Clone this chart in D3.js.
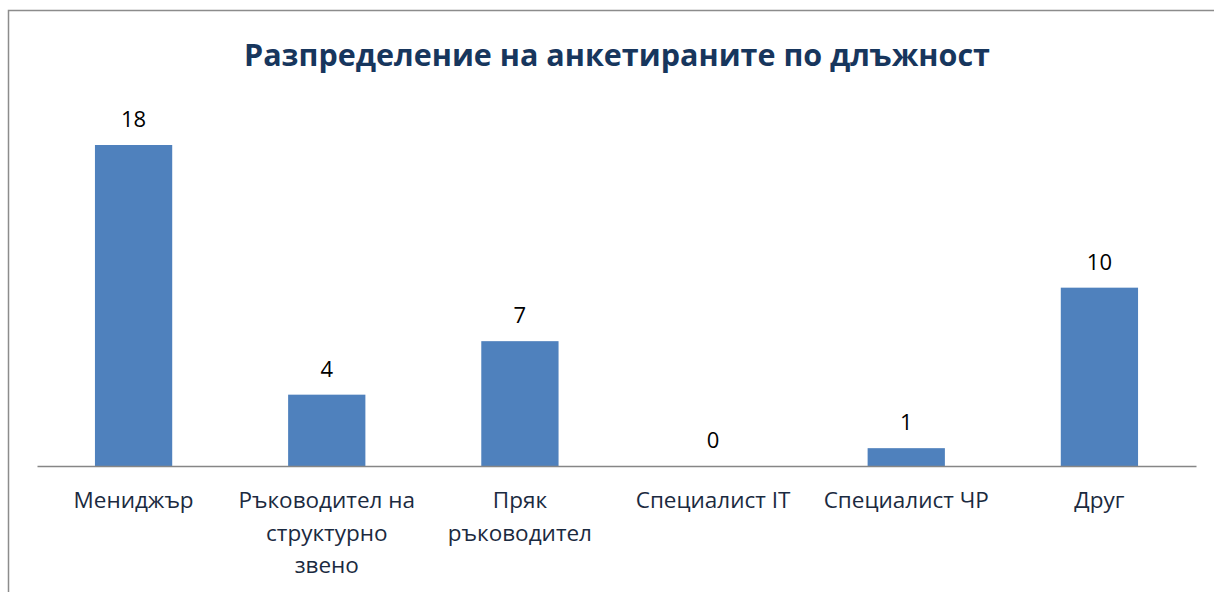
<!DOCTYPE html>
<html><head><meta charset="utf-8">
<script src="https://cdn.jsdelivr.net/npm/d3@7"></script>
<style>html,body{margin:0;padding:0;background:#fff;overflow:hidden}</style>
</head><body>
<svg id="c" width="1214" height="592"></svg>
<script>
const title = "Разпределение на анкетираните по длъжност";
const categories = ["Мениджър", "Ръководител на структурно звено", "Пряк ръководител", "Специалист IT", "Специалист ЧР", "Друг"];
const categoryLines = [["Мениджър"], ["Ръководител на", "структурно", "звено"], ["Пряк", "ръководител"], ["Специалист IT"], ["Специалист ЧР"], ["Друг"]];
const values = [18, 4, 7, 0, 1, 10];

const svg = d3.select("#c");
const font = "'Open Sans', sans-serif";

svg.append("rect").attr("x", 8.5).attr("y", 10.5).attr("width", 1214).attr("height", 600)
  .attr("fill", "#fff").attr("stroke", "#8c8c8c").attr("stroke-width", 1.5);

const x = d3.scaleBand().domain(categories).range([37, 1196]).paddingInner(0.6).paddingOuter(0.3);
const y = d3.scaleLinear().domain([0, 18]).range([466, 145]);

svg.append("text").attr("x", 617).attr("y", 66).attr("text-anchor", "middle")
  .attr("font-family", font).attr("font-weight", "bold").attr("font-size", 30.5)
  .attr("fill", "#17365D").text(title);

svg.selectAll("rect.bar").data(values).join("rect").attr("class", "bar")
  .attr("x", (d, i) => x(categories[i])).attr("width", x.bandwidth())
  .attr("y", d => y(d)).attr("height", d => y(0) - y(d)).attr("fill", "#4F81BD");

const xAxis = d3.axisBottom(x).tickSize(0).tickFormat("");
const ax = svg.append("g").attr("transform", `translate(0,${y(0)})`).call(xAxis);
ax.select(".domain").attr("stroke", "#868686").attr("stroke-width", 1.5);

svg.selectAll("text.val").data(values).join("text").attr("class", "val")
  .attr("x", (d, i) => x(categories[i]) + x.bandwidth() / 2).attr("y", d => y(d) - 18)
  .attr("text-anchor", "middle").attr("font-family", font).attr("font-size", 22)
  .attr("fill", "#000").text(d => d);

const lab = svg.selectAll("text.cat").data(categoryLines).join("text").attr("class", "cat")
  .attr("x", (d, i) => x(categories[i]) + x.bandwidth() / 2).attr("y", 508)
  .attr("text-anchor", "middle").attr("font-family", font).attr("font-size", 22.5).attr("fill", "#1B2A40");
lab.each(function(lines, i) {
  const t = d3.select(this);
  const cx = x(categories[i]) + x.bandwidth() / 2;
  lines.forEach((l, k) => t.append("tspan").attr("x", cx).attr("dy", k === 0 ? 0 : 32.5).text(l));
});
</script>
</body></html>
